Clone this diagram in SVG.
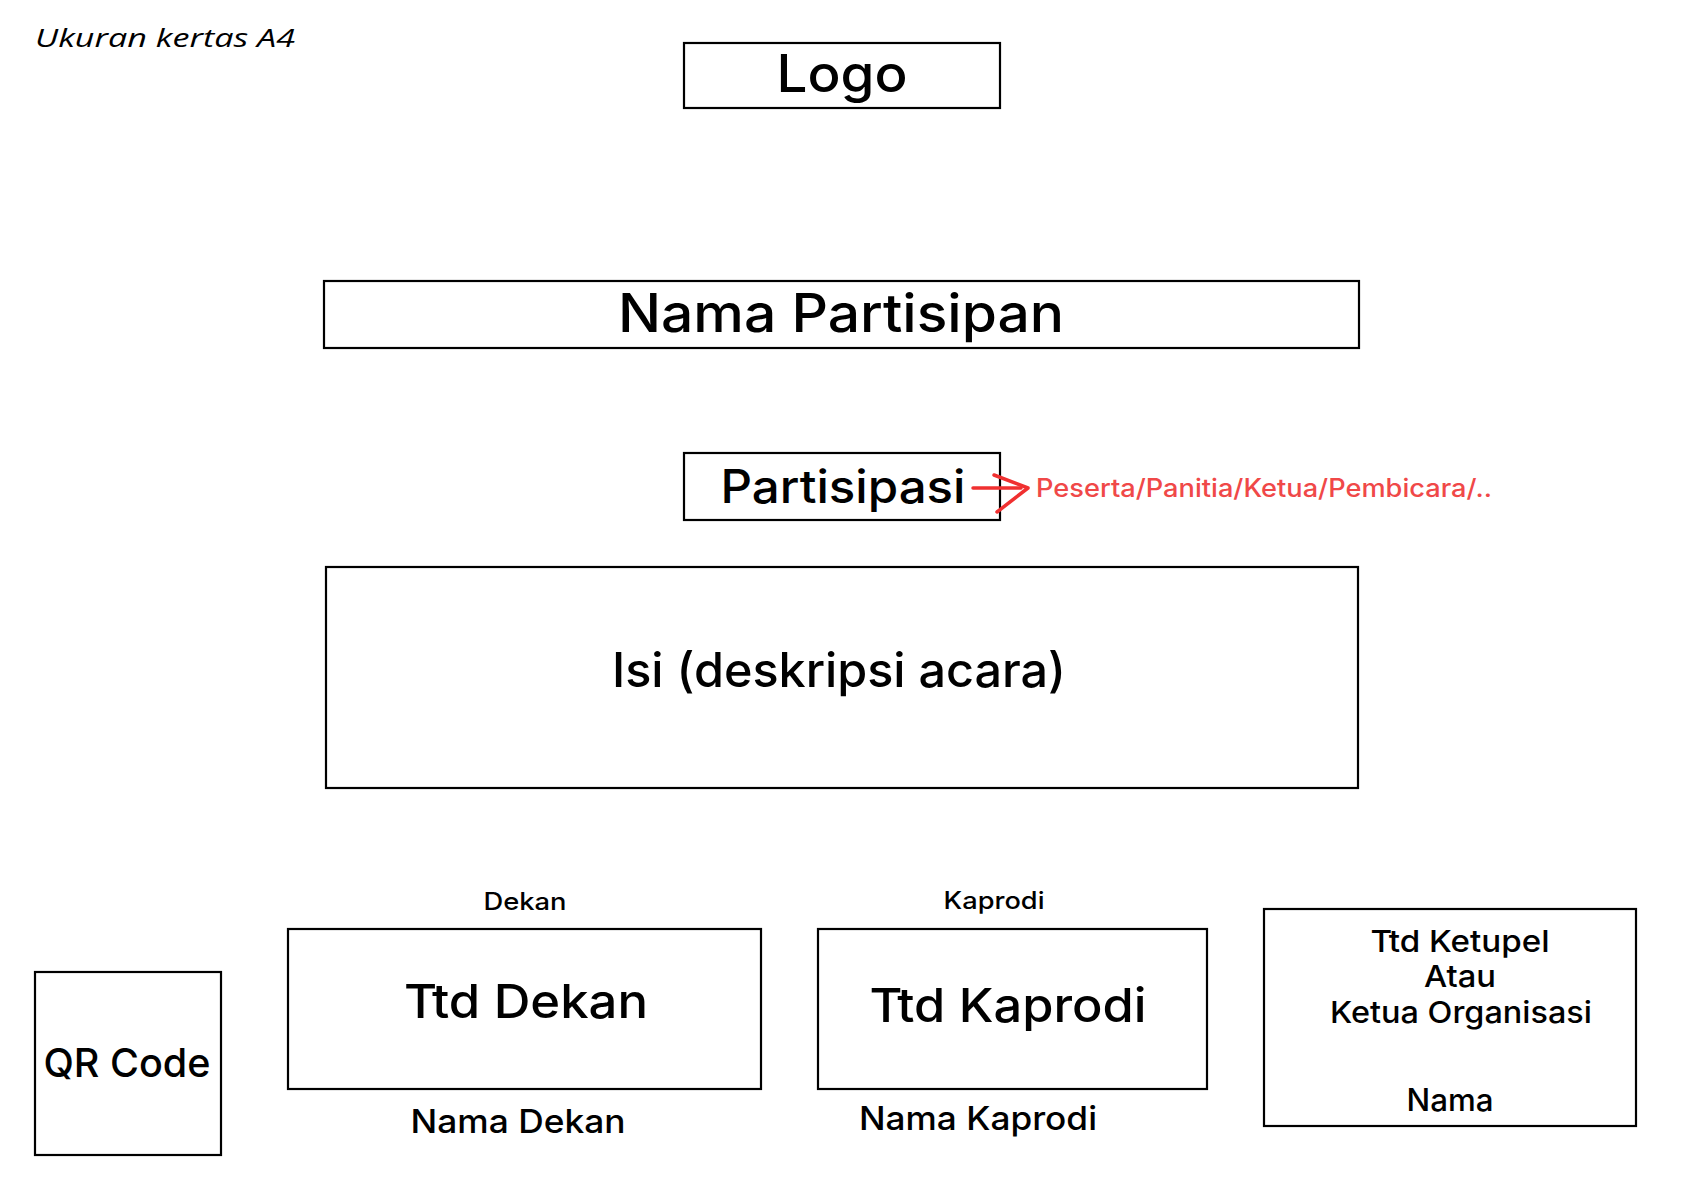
<svg xmlns="http://www.w3.org/2000/svg" width="1683" height="1190" viewBox="0 0 1683 1190">
<style>
.box{fill:#fff;stroke:#000;stroke-width:2.2}
text{font-family:Inter,"Noto Sans","Liberation Sans",sans-serif;font-weight:500;fill:#000;text-anchor:middle}
.note{font-family:"Open Sans",Lato,"Liberation Sans",sans-serif;font-style:italic;font-weight:400}
.red{fill:#f04848}
.arr{fill:none;stroke:#f03030;stroke-width:3.5;stroke-linecap:round;stroke-linejoin:round}
</style>
<rect width="1683" height="1190" fill="#fff"/>
<text class="note" x="165" y="47" font-size="26" textLength="260" lengthAdjust="spacingAndGlyphs">Ukuran kertas A4</text>
<g id="logo"><rect class="box" x="684" y="43" width="316" height="65"/><text x="842" y="92" font-size="52" textLength="131" lengthAdjust="spacingAndGlyphs">Logo</text></g>
<g id="nama-partisipan"><rect class="box" x="324" y="281" width="1035" height="67"/><text x="841" y="332" font-size="53" textLength="446" lengthAdjust="spacingAndGlyphs">Nama Partisipan</text></g>
<g id="partisipasi"><rect class="box" x="684" y="453" width="316" height="67"/><text x="843" y="503" font-size="46" textLength="245" lengthAdjust="spacingAndGlyphs">Partisipasi</text></g>
<g id="peserta"><text class="red" x="1264" y="497" font-size="25" textLength="456" lengthAdjust="spacingAndGlyphs">Peserta/Panitia/Ketua/Pembicara/..</text></g>
<g id="isi"><rect class="box" x="326" y="567" width="1032" height="221"/><text x="839" y="687" font-size="48" textLength="454" lengthAdjust="spacingAndGlyphs">Isi (deskripsi acara)</text></g>
<g id="qr"><rect class="box" x="35" y="972" width="186" height="183"/><text x="127" y="1077" font-size="40" textLength="167" lengthAdjust="spacingAndGlyphs">QR Code</text></g>
<g id="dekan"><text x="525" y="910" font-size="24" textLength="83" lengthAdjust="spacingAndGlyphs">Dekan</text><rect class="box" x="288" y="929" width="473" height="160"/><text x="526" y="1018" font-size="47" textLength="244" lengthAdjust="spacingAndGlyphs">Ttd Dekan</text><text x="518" y="1133" font-size="33" textLength="215" lengthAdjust="spacingAndGlyphs">Nama Dekan</text></g>
<g id="kaprodi"><text x="994" y="909" font-size="24" textLength="101" lengthAdjust="spacingAndGlyphs">Kaprodi</text><rect class="box" x="818" y="929" width="389" height="160"/><text x="1008" y="1022" font-size="47" textLength="277" lengthAdjust="spacingAndGlyphs">Ttd Kaprodi</text><text x="978" y="1130" font-size="33" textLength="238" lengthAdjust="spacingAndGlyphs">Nama Kaprodi</text></g>
<g id="ketupel"><rect class="box" x="1264" y="909" width="372" height="217"/><text x="1460" y="952" font-size="30" textLength="179" lengthAdjust="spacingAndGlyphs">Ttd Ketupel</text><text x="1460" y="987" font-size="30" textLength="72" lengthAdjust="spacingAndGlyphs">Atau</text><text x="1461" y="1023" font-size="30" textLength="262" lengthAdjust="spacingAndGlyphs">Ketua Organisasi</text><text x="1450" y="1111" font-size="31" textLength="87" lengthAdjust="spacingAndGlyphs">Nama</text></g>
<g id="connectors"><path class="arr" d="M973,488 L1021,488"/><path class="arr" d="M994,475 L1028,488 L997,512"/></g>
</svg>
